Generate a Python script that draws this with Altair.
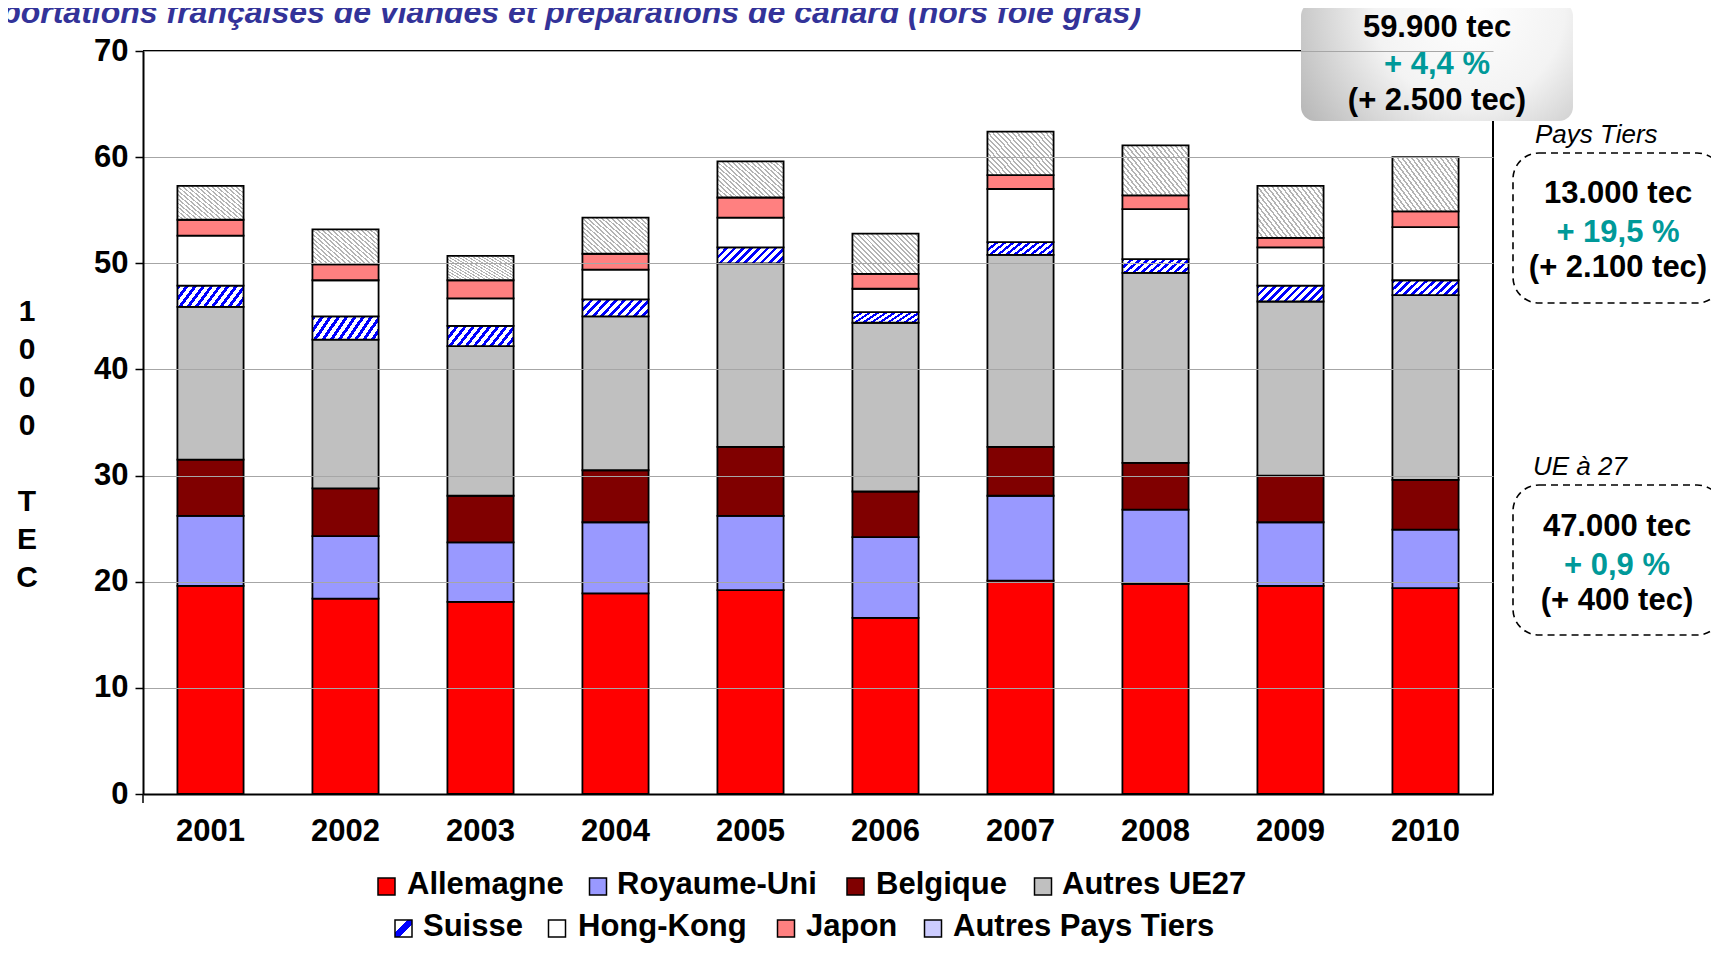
import altair as alt
import pandas as pd

# ---------------- data ----------------
years = ["2001", "2002", "2003", "2004", "2005", "2006", "2007", "2008", "2009", "2010"]
categories = ["Allemagne", "Royaume-Uni", "Belgique", "Autres UE27",
              "Suisse", "Hong-Kong", "Japon", "Autres Pays Tiers"]
allemagne = [19.6, 18.4, 18.1, 18.9, 19.2, 16.6, 20.1, 19.8, 19.6, 19.4]
royaume_uni = [6.6, 5.9, 5.6, 6.7, 7.0, 7.6, 8.0, 7.0, 6.0, 5.5]
belgique = [5.3, 4.5, 4.4, 4.9, 6.5, 4.3, 4.6, 4.4, 4.4, 4.7]
autres_ue27 = [14.4, 14.0, 14.1, 14.5, 17.3, 15.9, 18.1, 17.9, 16.4, 17.4]
suisse = [2.0, 2.2, 1.9, 1.6, 1.5, 1.0, 1.2, 1.3, 1.5, 1.4]
hong_kong = [4.7, 3.4, 2.6, 2.8, 2.8, 2.2, 5.0, 4.7, 3.6, 5.0]
japon = [1.5, 1.5, 1.7, 1.5, 1.9, 1.4, 1.3, 1.3, 0.9, 1.5]
autres_pays_tiers = [3.2, 3.3, 2.3, 3.4, 3.4, 3.8, 4.1, 4.7, 4.9, 5.1]
series = [allemagne, royaume_uni, belgique, autres_ue27,
          suisse, hong_kong, japon, autres_pays_tiers]
y_ticks = [0, 10, 20, 30, 40, 50, 60, 70]

title_text = "Exportations françaises de viandes et préparations de canard (hors foie gras)"
total_lines = ["59.900 tec", "+ 4,4 %", "(+ 2.500 tec)"]
pt_label = "Pays Tiers"
pt_lines = ["13.000 tec", "+ 19,5 %", "(+ 2.100 tec)"]
ue_label = "UE à 27"
ue_lines = ["47.000 tec", "+ 0,9 %", "(+ 400 tec)"]
y_title_top = ["1", "0", "0", "0"]
y_title_bottom = ["T", "E", "C"]

rows = []
for k, (cat, vals) in enumerate(zip(categories, series)):
    for yr, v in zip(years, vals):
        rows.append({"year": yr, "cat": cat, "value": v, "order": k})
df = pd.DataFrame(rows)
dummy = pd.DataFrame({"k": [0]})

# ---------------- styling ----------------
W, H = 1350, 743
FONT = "Liberation Sans"
TEAL = "#009999"


def stripes(bg, fg, n, frac, x1, y1, x2, y2):
    stops = []
    for i in range(n):
        a = i / n
        m = (i + frac) / n
        c = (i + 1) / n
        for off, col in ((a, fg), (m, fg), (m, bg), (c, bg)):
            stops.append(alt.GradientStop(offset=round(min(off, 1.0), 4), color=col))
    return alt.LinearGradient(gradient="linear", stops=stops, x1=x1, y1=y1, x2=x2, y2=y2)


suisse_fill = stripes("#ffffff", "#0000ff", 10, 0.45, 0, 0, 1.1725, 0.2814)
apt_fill = stripes("#ffffff", "#b4b4b4", 22, 0.4, 0, 1, 1.175, 0.288)
legend_suisse_fill = alt.LinearGradient(
    gradient="linear",
    stops=[alt.GradientStop(offset=0, color="#ffffff"),
           alt.GradientStop(offset=0.36, color="#ffffff"),
           alt.GradientStop(offset=0.36, color="#0000ff"),
           alt.GradientStop(offset=0.62, color="#0000ff"),
           alt.GradientStop(offset=0.62, color="#ffffff"),
           alt.GradientStop(offset=1, color="#ffffff")],
    x1=0, y1=0, x2=1, y2=1)

bar_fills = ["#ff0000", "#9999ff", "#800000", "#c0c0c0",
             suisse_fill, "#ffffff", "#ff8080", apt_fill]
legend_fills = ["#ff0000", "#9999ff", "#800000", "#c0c0c0",
                legend_suisse_fill, "#ffffff", "#ff8080", "#ccccff"]

x_enc = alt.X("year:N", sort=years,
              scale=alt.Scale(paddingInner=0.51, paddingOuter=0.255),
              axis=alt.Axis(labelAngle=0, ticks=False, domainColor="black",
                            domainWidth=2, labelPadding=22, labelFont=FONT,
                            labelFontSize=31, labelFontWeight="bold",
                            labelColor="black", title=None, grid=False, zindex=1))
y_enc = alt.Y("y0:Q", scale=alt.Scale(domain=[0, 70], nice=False),
              axis=alt.Axis(values=y_ticks, grid=True, gridColor="#a6a6a6",
                            gridWidth=1, domainColor="black", domainWidth=2,
                            tickColor="black", tickWidth=1.5, tickSize=8,
                            labelPadding=7, labelFont=FONT, labelFontSize=31,
                            labelFontWeight="bold", labelColor="black",
                            title=None, zindex=1))

base = alt.Chart(df).transform_stack(
    stack="value", groupby=["year"], as_=["y0", "y1"],
    sort=[alt.SortField("order", order="ascending")])

layers = []
for cat, fill in zip(categories, bar_fills):
    layers.append(
        base.transform_filter(alt.datum.cat == cat)
        .mark_bar(fill=fill, stroke="black", strokeWidth=1.8)
        .encode(x=x_enc, y=y_enc, y2="y1:Q")
    )

# frame: top line, right border and the small tick under the origin
layers.append(alt.Chart(dummy).mark_rule(color="black", strokeWidth=2).encode(y=alt.value(0)))
layers.append(alt.Chart(dummy).mark_rule(color="black", strokeWidth=2).encode(x=alt.value(W)))
layers.append(alt.Chart(dummy).mark_rule(color="black", strokeWidth=1.5).encode(
    x=alt.value(0), y=alt.value(H), y2=alt.value(H + 9)))


def text(s, x, y, size=31, color="black", weight="bold", style="normal", align="center"):
    return alt.Chart(dummy).mark_text(
        text=s, font=FONT, fontSize=size, fontWeight=weight, fontStyle=style,
        color=color, align=align, baseline="middle"
    ).encode(x=alt.value(x), y=alt.value(y))


def box(x, x2, y, y2, **kw):
    return alt.Chart(dummy).mark_rect(**kw).encode(
        x=alt.value(x), x2=alt.value(x2), y=alt.value(y), y2=alt.value(y2))


# total box (grey gradient)
grey_grad = alt.RadialGradient(
    gradient="radial",
    stops=[alt.GradientStop(offset=0, color="#ffffff"),
           alt.GradientStop(offset=0.45, color="#f3f3f3"),
           alt.GradientStop(offset=1, color="#b0b0b0")],
    x1=0.62, y1=0.3, r1=0, x2=0.62, y2=0.3, r2=0.78)
layers.append(box(1158, 1430, -49, 70, fill=grey_grad, cornerRadius=14))
for s, yy, col in zip(total_lines, [-23, 14, 50], ["black", TEAL, "black"]):
    layers.append(text(s, 1294, yy, color=col))

# Pays Tiers box
layers.append(text(pt_label, 1392, 84, size=26, weight="normal", style="italic", align="left"))
layers.append(box(1370, 1580, 102, 252, fillOpacity=0, stroke="black",
                  strokeWidth=1.6, strokeDash=[7, 5], cornerRadius=26))
for s, yy, col in zip(pt_lines, [143, 182, 217], ["black", TEAL, "black"]):
    layers.append(text(s, 1475, yy, color=col))

# UE box
layers.append(text(ue_label, 1390, 416, size=26, weight="normal", style="italic", align="left"))
layers.append(box(1370, 1580, 434, 584, fillOpacity=0, stroke="black",
                  strokeWidth=1.6, strokeDash=[7, 5], cornerRadius=26))
for s, yy, col in zip(ue_lines, [476, 515, 550], ["black", TEAL, "black"]):
    layers.append(text(s, 1474, yy, color=col))

# custom legend (two centred rows)
sq_x = [243.5, 455, 712.5, 900, 260.5, 414, 643, 790]
tx_x = [264, 474, 733, 919, 280, 435, 663, 810]
row_y = [834, 834, 834, 834, 876, 876, 876, 876]
for cat, fill, sx, tx, ry in zip(categories, legend_fills, sq_x, tx_x, row_y):
    layers.append(box(sx - 8.5, sx + 8.5, ry - 7, ry + 10,
                      fill=fill, stroke="black", strokeWidth=1.5))
    layers.append(text(cat, tx, ry, align="left"))

# vertical y-axis title ("1000" then a gap then "TEC")
for lines, yy in ((y_title_top, 261), (y_title_bottom, 451)):
    layers.append(
        alt.Chart(dummy).mark_text(
            text=lines, font=FONT, fontSize=30, fontWeight="bold", color="black",
            align="center", baseline="middle", lineHeight=38
        ).encode(x=alt.value(-116), y=alt.value(yy))
    )

# page title (partially cut at the top, as in the source)
layers.append(
    alt.Chart(dummy).mark_text(
        text=title_text, font=FONT, fontSize=32, fontWeight="bold",
        fontStyle="italic", color="#333399", align="left", baseline="alphabetic"
    ).encode(x=alt.value(-181), y=alt.value(-28))
)

chart = alt.layer(*layers).properties(
    width=W, height=H,
    padding={"left": 135, "top": 43, "right": 218, "bottom": 151},
    autosize=alt.AutoSizeParams(type="none"),
).configure_view(stroke="transparent").configure(background="white")

chart.save("out.html", embed_options={"renderer": "svg", "actions": False})
